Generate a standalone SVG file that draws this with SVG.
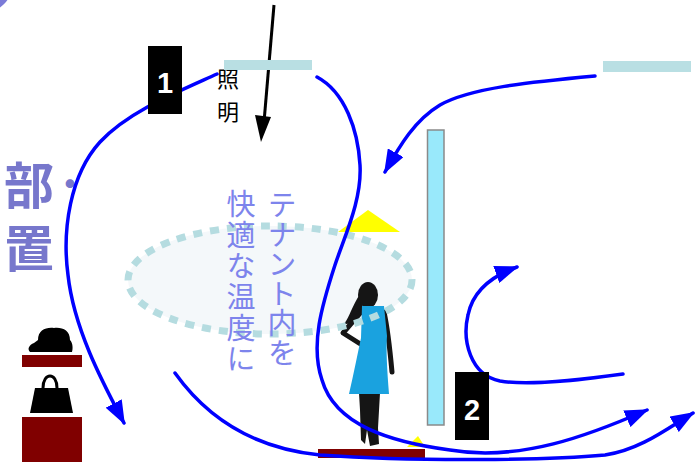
<svg xmlns="http://www.w3.org/2000/svg" width="697" height="462" viewBox="0 0 697 462">
  <style>
    .flow { fill: none; stroke: #0000ff; stroke-width: 3.5; stroke-linecap: round; }
    .jp { font-family: "Noto Sans CJK JP", "Noto Sans", sans-serif; }
    .vt { font-size: 29px; fill: #7d84ec; writing-mode: vertical-rl; }
    .badge { fill: #000; }
    .badge-num { font-family: "Liberation Sans", Arial, sans-serif; font-weight: bold; font-size: 29px; fill: #fff; text-anchor: middle; }
    .light { fill: #b9dfe3; }
    .shelf { fill: #800000; }
  </style>
  <defs>
    <marker id="head" viewBox="0 0 24 18" refX="22" refY="9" markerWidth="24" markerHeight="18" markerUnits="userSpaceOnUse" orient="auto">
      <path d="M0,0 L24,9 L0,18 Z" fill="#0000ff"/>
    </marker>
  </defs>

  <rect width="697" height="462" fill="#fff"/>

  <!-- corner ornament -->
  <circle cx="-15" cy="-15" r="27" fill="#7b7bd8"/>

  <!-- side label -->
  <g id="side-label" class="jp" fill="#7777cc" font-weight="bold">
    <text x="29" y="160" font-size="50" letter-spacing="13" style="writing-mode: vertical-rl">部置</text>
    <text x="70" y="197" font-size="34" text-anchor="middle">・</text>
  </g>

  <!-- comfort zone -->
  <g id="zone">
    <ellipse id="zone-fill" cx="270" cy="280" rx="142" ry="54" fill="#f4f8fa"/>
  </g>

  <!-- display stand -->
  <g id="stand">
    <polygon points="368,210 338,232 400,232" fill="#ffff00"/>
    <polygon points="418,436 407,447 425,447" fill="#ffff00"/>
    <rect x="318" y="449" width="107" height="9" class="shelf"/>
  </g>

  <!-- figure -->
  <g id="figure">
    <path d="M360,294 C352,306 350,316 344,324 C352,325 358,319 363,310 Z" fill="#151515"/>
    <ellipse cx="368" cy="295" rx="10" ry="13" fill="#151515"/>
    <path d="M361,312 L343,333 L362,345" fill="none" stroke="#151515" stroke-width="5" stroke-linejoin="round" stroke-linecap="round"/>
    <path d="M384,312 C388,330 390,350 392,372" fill="none" stroke="#151515" stroke-width="5" stroke-linecap="round"/>
    <path d="M359,393 L380,393 L378,428 L379,444 L370,446 L367,430 L365,444 L361,440 L360,410 Z" fill="#151515"/>
    <path d="M362,306 L384,306 L387,336 C386,350 387,368 389,394 L349,394 C354,372 358,352 361,338 Z" fill="#1aa2df"/>
  </g>

  <ellipse id="zone-edge" cx="270" cy="280" rx="142" ry="54" fill="none" stroke="#b5dce0" stroke-width="7" stroke-dasharray="9 8"/>

  <!-- glass panel -->
  <g id="panel">
    <rect x="427.5" y="130" width="16.5" height="295" fill="#99e9fb" stroke="#8a8a8a" stroke-width="1.5"/>
  </g>

  <!-- lighting -->
  <g id="lighting">
    <text class="jp" x="228" y="87" font-size="22" text-anchor="middle" fill="#000">照</text>
    <text class="jp" x="228" y="120" font-size="22" text-anchor="middle" fill="#000">明</text>
    <line x1="274" y1="5" x2="264" y2="122" stroke="#000" stroke-width="3"/>
    <polygon points="255,115 271,117 261,142" fill="#000"/>
    <rect x="224" y="60" width="88" height="10" class="light"/>
    <rect x="603" y="61" width="88" height="11" class="light"/>
  </g>

  <!-- vertical caption -->
  <g id="caption" class="jp vt">
    <text x="241" y="189" letter-spacing="2">快適な温度に</text>
    <text x="282" y="190.5" letter-spacing="0.5">テナント内を</text>
  </g>

  <!-- goods -->
  <g id="goods">
    <path d="M38,340 C38,330 46,327 54,328 C62,327 70,330 70,340 C73,343 73,349 72,352 L30,352 C27,349 29,345 34,343 Z" fill="#000"/>
    <rect x="22" y="355" width="60" height="12" class="shelf"/>
    <path d="M43,388 C43,372 57,372 57,388" fill="none" stroke="#000" stroke-width="3"/>
    <path d="M35,388 L68,388 L73,413 L30,413 Z" fill="#000"/>
    <rect x="22" y="417" width="60" height="45" class="shelf"/>
  </g>

  <!-- air flows -->
  <g id="connectors">
    <path class="flow" d="M217,74 C175,93 128,112 100,142 C70,175 62,230 68,275 C74,330 104,385 124,423" marker-end="url(#head)"/>
    <path class="flow" d="M317,77 C345,92 358,130 360,165 C362,200 345,235 335,265 C322,305 310,345 322,380 C335,425 390,442 450,450 C520,462 590,435 647,410" marker-end="url(#head)"/>
    <path class="flow" d="M175,373 C205,415 250,448 320,455 C420,462 550,460 605,455 C640,450 668,428 693,413" marker-end="url(#head)"/>
    <path class="flow" d="M595,76 C530,82 470,88 440,105 C415,120 400,145 385,172" marker-end="url(#head)"/>
    <path class="flow" d="M623,374 C580,380 530,386 500,381 C470,375 462,340 468,315 C473,290 492,276 517,267" marker-end="url(#head)"/>
  </g>

  <!-- step badges -->
  <g id="badge-1">
    <rect x="148" y="46" width="34" height="68" class="badge"/>
    <text x="165" y="93" class="badge-num">1</text>
  </g>
  <g id="badge-2">
    <rect x="455" y="372" width="34" height="68" class="badge"/>
    <text x="472" y="420" class="badge-num">2</text>
  </g>
</svg>
